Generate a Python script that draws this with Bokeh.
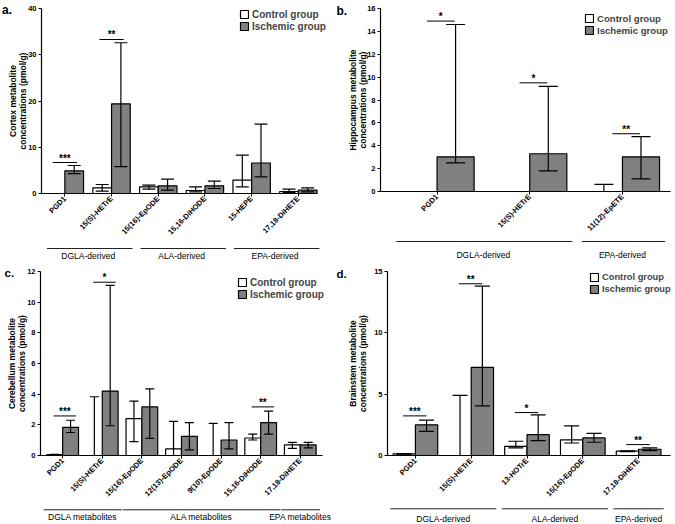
import numpy as np
from bokeh.plotting import figure
from bokeh.models import (Range1d, FixedTicker, ColumnDataSource, Whisker, TeeHead,
                          Legend, LegendItem, GridBox)
from bokeh.layouts import row, column
from bokeh.embed import file_html
from bokeh.resources import INLINE
from bokeh.core.properties import value

FONT = "Liberation Sans"
GRAY = "#808080"

# ---------------- Panel a: cortex ----------------
a_cats = ["PGD1", "15(S)-HETrE", "15(16)-EpODE", "15,16-DiHODE", "15-HEPE", "17,18-DiHETE"]
a_ctrl = [0, 1.22, 1.44, 0.65, 2.9, 0.43]
a_ctrl_lo = [0, 0.5, 0.94, 0.36, 1.45, 0.2]
a_ctrl_hi = [0, 1.95, 1.8, 1.44, 8.3, 0.94]
a_isch = [4.9, 19.4, 1.66, 1.66, 6.6, 0.72]
a_isch_lo = [4.3, 5.8, 0.72, 1.08, 3.6, 0.36]
a_isch_hi = [6.05, 32.6, 3.1, 2.67, 15.0, 1.2]
a_sig_cat = ["PGD1", "15(S)-HETrE"]
a_sig_y = [6.7, 33.3]
a_sig_mark = ["***", "**"]
a_groups = ["DGLA-derived", "ALA-derived", "EPA-derived"]
a_grp_first = [0, 2, 4]
a_grp_last = [1, 3, 5]
a_yticks = [0, 10, 20, 30, 40]

# ---------------- Panel b: hippocampus ----------------
b_cats = ["PGD1", "15(S)-HETrE", "11(12)-EpETE"]
b_ctrl = [0, 0, 0]
b_ctrl_lo = [0, 0, 0]
b_ctrl_hi = [0, 0, 0.63]
b_isch = [3.03, 3.3, 3.03]
b_isch_lo = [2.5, 1.8, 1.1]
b_isch_hi = [14.6, 9.2, 4.8]
b_sig_cat = ["PGD1", "15(S)-HETrE", "11(12)-EpETE"]
b_sig_y = [14.9, 9.5, 5.05]
b_sig_mark = ["*", "*", "**"]
b_groups = ["DGLA-derived", "EPA-derived"]
b_grp_first = [0, 2]
b_grp_last = [1, 2]
b_yticks = [0, 2, 4, 6, 8, 10, 12, 14, 16]

# ---------------- Panel c: cerebellum ----------------
c_cats = ["PGD1", "15(S)-HETrE", "15(16)-EpODE", "12(13)-EpODE", "9(10)-EpODE",
          "15,16-DiHODE", "17,18-DiHETE"]
c_ctrl = [0.06, 0, 2.41, 0.43, 0, 1.14, 0.69]
c_ctrl_lo = [0.04, 0, 0.9, 0, 0, 1.01, 0.47]
c_ctrl_hi = [0.08, 3.83, 3.55, 2.22, 2.09, 1.4, 0.86]
c_isch = [1.83, 4.2, 3.17, 1.25, 1.01, 2.15, 0.69]
c_isch_lo = [1.5, 1.94, 1.12, 0.37, 0.43, 1.4, 0.5]
c_isch_hi = [2.3, 11.1, 4.35, 2.15, 2.15, 2.9, 0.86]
c_sig_cat = ["PGD1", "15(S)-HETrE", "15,16-DiHODE"]
c_sig_y = [2.58, 11.3, 3.17]
c_sig_mark = ["***", "*", "**"]
c_groups = ["DGLA metabolites", "ALA metabolites", "EPA metabolites"]
c_grp_first = [0, 2, 6]
c_grp_last = [1, 5, 6]
c_yticks = [0, 2, 4, 6, 8, 10, 12]

# ---------------- Panel d: brainstem ----------------
d_cats = ["PGD1", "15(S)-HETrE", "13-HOTrE", "15(16)-EpODE", "17,18-DiHETE"]
d_ctrl = [0.13, 0, 0.75, 1.27, 0.35]
d_ctrl_lo = [0.1, 0, 0.62, 1.02, 0.32]
d_ctrl_hi = [0.15, 4.9, 1.16, 2.42, 0.38]
d_isch = [2.5, 7.19, 1.7, 1.43, 0.51]
d_isch_lo = [1.97, 4.05, 1.21, 1.08, 0.4]
d_isch_hi = [2.88, 13.8, 3.31, 1.8, 0.62]
d_sig_cat = ["PGD1", "15(S)-HETrE", "13-HOTrE", "17,18-DiHETE"]
d_sig_y = [3.23, 14.0, 3.5, 0.89]
d_sig_mark = ["***", "**", "*", "**"]
d_groups = ["DGLA-derived", "ALA-derived", "EPA-derived"]
d_grp_first = [0, 2, 4]
d_grp_last = [1, 3, 4]
d_yticks = [0, 5, 10, 15]


def make_panel(letter, ytitle, cats, ctrl, ctrl_lo, ctrl_hi, isch, isch_lo, isch_hi,
               sig_cat, sig_y, sig_mark, groups, gfirst, glast, yticks, cfg):
    W, Hm, Hg = cfg["W"], cfg["Hm"], cfg["Hg"]
    mbl, mbr, mbt, fb = cfg["mbl"], cfg["mbr"], cfg["mbt"], cfg["frame_bottom"]
    x0, ppu = cfg["x0"], cfg["ppu"]
    x1 = x0 + (W - mbl - mbr) / ppu
    ymax = yticks[-1]
    xr = Range1d(x0, x1)

    p = figure(width=W, height=Hm, x_range=xr, y_range=Range1d(0, ymax),
               output_backend="svg", toolbar_location=None,
               min_border_left=mbl, min_border_right=mbr, min_border_top=mbt,
               min_border_bottom=Hm - fb)
    p.outline_line_color = None
    p.grid.visible = False
    p.background_fill_color = "white"

    n = len(cats)
    idx = np.arange(n)

    xa = p.xaxis[0]
    xa.ticker = FixedTicker(ticks=list(range(n)))
    xa.major_label_overrides = {i: c for i, c in enumerate(cats)}
    xa.bounds = (x0, cfg["axis_end"])
    xa.major_label_orientation = np.pi / 4
    xa.minor_tick_line_color = None
    xa.major_tick_out = 3
    xa.major_tick_in = 0
    xa.major_label_standoff = 1
    xa.major_label_text_font = FONT
    xa.major_label_text_font_size = "7.5px"
    xa.major_label_text_font_style = "bold"
    xa.major_label_text_color = "black"
    xa.axis_line_width = 1.2
    xa.axis_line_color = "black"
    xa.major_tick_line_color = "black"

    ya = p.yaxis[0]
    ya.ticker = FixedTicker(ticks=yticks)
    ya.bounds = (0, ymax)
    ya.minor_tick_line_color = None
    ya.major_tick_out = 3
    ya.major_tick_in = 0
    ya.major_label_standoff = 2
    ya.major_label_text_font = FONT
    ya.major_label_text_font_size = "7.5px"
    ya.major_label_text_font_style = "bold"
    ya.major_label_text_color = "black"
    ya.axis_line_width = 1.2
    ya.axis_line_color = "black"
    ya.major_tick_line_color = "black"
    ya.axis_label = ytitle
    ya.axis_label_text_font = FONT
    ya.axis_label_text_font_size = "8.5px"
    ya.axis_label_text_font_style = "bold"
    ya.axis_label_text_color = "black"
    ya.axis_label_standoff = cfg["title_standoff"]
    ya.axis_label_text_line_height = 1.0

    src_c = ColumnDataSource(dict(x=idx - 0.2, top=ctrl, lo=ctrl_lo, hi=ctrl_hi))
    src_i = ColumnDataSource(dict(x=idx + 0.2, top=isch, lo=isch_lo, hi=isch_hi))
    r1 = p.vbar(x="x", top="top", width=0.4, source=src_c, fill_color="white",
                line_color="black", line_width=1.2)
    r2 = p.vbar(x="x", top="top", width=0.4, source=src_i, fill_color=GRAY,
                line_color="black", line_width=1.2)
    for s in (src_c, src_i):
        w = Whisker(source=s, base="x", lower="lo", upper="hi", line_width=1.2,
                    line_color="black", level="overlay",
                    upper_head=TeeHead(size=cfg["tee"], line_width=1.2, line_color="black"),
                    lower_head=TeeHead(size=cfg["tee"], line_width=1.2, line_color="black"))
        p.add_layout(w)

    so0, so1 = cfg["sig_off"]
    sidx = np.array([cats.index(c) for c in sig_cat], dtype=float)
    p.segment(x0=sidx + so0, x1=sidx + so1, y0=sig_y, y1=sig_y,
              line_color="black", line_width=1.0)
    p.text(x=sidx + (so0 + so1) / 2, y=sig_y, text=sig_mark, text_align="center",
           text_baseline="bottom", y_offset=1, text_font=value(FONT),
           text_font_size="10px", text_font_style="bold", text_color="black")

    legend = Legend(items=[LegendItem(label="Control group", renderers=[r1]),
                           LegendItem(label="Ischemic group", renderers=[r2])],
                    location=cfg["legend_loc"], border_line_color=None,
                    background_fill_alpha=0, label_text_font=FONT,
                    label_text_font_size=cfg["legend_fs"], label_text_font_style="bold",
                    glyph_width=10, glyph_height=10, label_height=12,
                    label_standoff=3, padding=0, spacing=0, margin=0)
    p.add_layout(legend)

    g = figure(width=W, height=Hg, x_range=xr, y_range=Range1d(Hg, 0),
               output_backend="svg", toolbar_location=None,
               x_axis_type=None, y_axis_type=None,
               min_border_left=mbl, min_border_right=mbr, min_border_top=0,
               min_border_bottom=0)
    g.outline_line_color = None
    g.background_fill_color = "white"
    go0, go1 = cfg["grp_off"]
    gf = np.array(gfirst, dtype=float)
    gl = np.array(glast, dtype=float)
    ly = cfg["grp_line_y"]
    ty = cfg["grp_text_y"]
    g.segment(x0=gf + go0, x1=gl + go1, y0=[ly] * len(groups), y1=[ly] * len(groups),
              line_color="#222222", line_width=1.0)
    g.text(x=(gf + gl) / 2, y=[ty] * len(groups), text=groups, text_align="center",
           text_baseline="middle", text_font=value(FONT), text_font_size="8.5px",
           text_color="black")

    # panel letter: small transparent figure laid over the top-left corner
    LW, LH = 20, 24
    lf = figure(width=LW, height=LH, x_range=Range1d(0, LW), y_range=Range1d(LH, 0),
                output_backend="svg", toolbar_location=None,
                x_axis_type=None, y_axis_type=None, min_border=0)
    lf.outline_line_color = None
    lf.background_fill_alpha = 0
    lf.border_fill_alpha = 0
    lf.text(x=[cfg["letter_x"]], y=[cfg["letter_base"]], text=[letter],
            text_align="left", text_baseline="alphabetic", text_font=value(FONT),
            text_font_size=cfg["letter_fs"], text_font_style="bold", text_color="black")

    return GridBox(children=[(column(p, g), 0, 0), (lf, 0, 0)])


cfg_a = dict(W=335, Hm=243, Hg=17, mbl=41, mbr=2, mbt=8, frame_bottom=193,
             x0=-0.5, ppu=46.7, axis_end=5.41, tee=13, legend_loc=(198, 161),
             legend_fs="10px", letter_fs="12px", letter_x=1.5, letter_base=9.5,
             sig_off=(-0.26, 0.26), grp_off=(-0.38, 0.45), grp_line_y=5,
             grp_text_y=12, title_standoff=-3)
cfg_b = dict(W=340, Hm=238, Hg=22, mbl=45, mbr=0, mbt=8, frame_bottom=193,
             x0=-0.61, ppu=92.7, axis_end=2.52, tee=19, legend_loc=(204, 155),
             legend_fs="9.6px", letter_fs="12px", letter_x=1, letter_base=10.7,
             sig_off=(-0.11, 0.19), grp_off=(-0.44, 0.46), grp_line_y=3,
             grp_text_y=16.5, title_standoff=-4)
cfg_c = dict(W=335, Hm=244, Hg=20, mbl=40, mbr=2, mbt=11, frame_bottom=197,
             x0=-0.56, ppu=39.6, axis_end=6.55, tee=9, legend_loc=(197, 155),
             legend_fs="10px", letter_fs="11.5px", letter_x=4, letter_base=12.7,
             sig_off=(-0.23, 0.34), grp_off=(-0.48, 0.5), grp_line_y=5.3,
             grp_text_y=12.7, title_standoff=-3)
cfg_d = dict(W=340, Hm=244, Hg=20, mbl=52, mbr=0, mbt=11, frame_bottom=197,
             x0=-0.5, ppu=55.8, axis_end=4.57, tee=15, legend_loc=(202, 160),
             legend_fs="9.3px", letter_fs="11.5px", letter_x=1, letter_base=13.7,
             sig_off=(-0.22, 0.2), grp_off=(-0.45, 0.45), grp_line_y=4.3,
             grp_text_y=14, title_standoff=3)

pa = make_panel("a.", "Cortex metabolite\nconcentrations (pmol/g)", a_cats, a_ctrl, a_ctrl_lo,
                a_ctrl_hi, a_isch, a_isch_lo, a_isch_hi, a_sig_cat, a_sig_y, a_sig_mark,
                a_groups, a_grp_first, a_grp_last, a_yticks, cfg_a)
pb = make_panel("b.", "Hippocampus metabolite\nconcentrations (pmol/g)", b_cats, b_ctrl, b_ctrl_lo,
                b_ctrl_hi, b_isch, b_isch_lo, b_isch_hi, b_sig_cat, b_sig_y, b_sig_mark,
                b_groups, b_grp_first, b_grp_last, b_yticks, cfg_b)
pc = make_panel("c.", "Cerebellum metabolite\nconcentrations (pmol/g)", c_cats, c_ctrl, c_ctrl_lo,
                c_ctrl_hi, c_isch, c_isch_lo, c_isch_hi, c_sig_cat, c_sig_y, c_sig_mark,
                c_groups, c_grp_first, c_grp_last, c_yticks, cfg_c)
pd_ = make_panel("d.", "Brainstem metabolite\nconcentrations (pmol/g)", d_cats, d_ctrl, d_ctrl_lo,
                 d_ctrl_hi, d_isch, d_isch_lo, d_isch_hi, d_sig_cat, d_sig_y, d_sig_mark,
                 d_groups, d_grp_first, d_grp_last, d_yticks, cfg_d)

layout = column(row(pa, pb), row(pc, pd_))

open("out.html", "w").write(file_html(layout, INLINE))
